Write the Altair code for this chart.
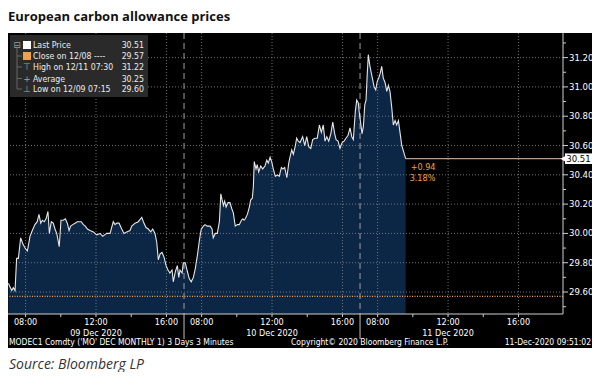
import altair as alt
import pandas as pd

# ---------------- data ----------------
# t = trading-session hours since 07:00 on 09 Dec 2020 (each session 07:00-17:00 = 10 h)
t_hours = [
    0.02, 0.21, 0.30, 0.40, 0.49, 0.59, 0.72, 0.84, 0.97, 1.10, 1.25, 1.38, 1.53, 1.66, 1.76, 1.86,
    1.95, 2.06, 2.16, 2.27, 2.35, 2.46, 2.57, 2.67, 2.77, 2.91, 3.01, 3.14, 3.26, 3.37, 3.47, 3.56,
    3.68, 3.81, 3.94, 4.05, 4.16, 4.28, 4.39, 4.51, 4.66, 4.85, 5.04, 5.23, 5.38, 5.61, 5.80, 5.98,
    6.08, 6.18, 6.31, 6.46, 6.59, 6.74, 6.93, 7.03, 7.22, 7.40, 7.60, 7.69, 7.84, 7.97, 8.11, 8.22,
    8.35, 8.45, 8.54, 8.64, 8.75, 8.86, 8.98, 9.09, 9.20, 9.32, 9.39, 9.51, 9.62, 9.70, 9.77, 9.89,
    9.96,
    10.07, 10.19, 10.30, 10.41, 10.53, 10.64, 10.76, 10.87, 10.98, 11.10, 11.19, 11.32, 11.48, 11.59,
    11.66, 11.78, 11.89, 12.01, 12.09, 12.16, 12.24, 12.31, 12.39, 12.50, 12.61, 12.71, 12.80, 12.91,
    13.03, 13.14, 13.26, 13.34, 13.41, 13.48, 13.60, 13.71, 13.79, 13.88, 13.94, 13.99, 14.09, 14.16,
    14.24, 14.36, 14.47, 14.60, 14.70, 14.79, 14.89, 14.98, 15.07, 15.19, 15.30, 15.41, 15.53, 15.61,
    15.72, 15.84, 15.95, 16.02, 16.12, 16.21, 16.31, 16.40, 16.49, 16.59, 16.74, 16.86, 16.97, 17.09,
    17.20, 17.31, 17.44, 17.57, 17.69, 17.80, 17.91, 18.01, 18.11, 18.22, 18.34, 18.45, 18.56, 18.64,
    18.75, 18.86, 18.98, 19.09, 19.20, 19.32, 19.43, 19.53, 19.62, 19.73, 19.81, 19.90, 19.96,
    20.04, 20.11, 20.19, 20.27, 20.34, 20.41, 20.47, 20.55, 20.63, 20.70, 20.80, 20.89, 20.98, 21.06,
    21.14, 21.23, 21.32, 21.42, 21.52, 21.61, 21.70, 21.80, 21.89, 21.99, 22.08, 22.18, 22.27, 22.37,
    22.47, 22.59,
]
price = [
    29.66, 29.61, 29.63, 29.61, 29.83, 29.83, 29.97, 29.93, 29.90, 29.88, 29.98, 30.02, 30.06, 30.08, 30.13, 30.07,
    30.09, 30.08, 30.10, 30.15, 30.00, 30.08, 30.07, 30.03, 30.00, 29.91, 30.09, 30.09, 30.10, 30.07, 30.02, 30.05,
    30.06, 30.07, 30.08, 30.08, 30.08, 30.06, 30.05, 30.03, 30.02, 30.01, 29.99, 30.00, 29.98, 30.00, 30.00, 30.08,
    30.06, 30.07, 30.07, 30.03, 30.00, 30.01, 30.02, 30.05, 30.07, 30.08, 30.11, 30.08, 30.04, 30.03, 30.01, 30.03,
    30.00, 29.94, 29.82, 29.86, 29.87, 29.84, 29.78, 29.75, 29.73, 29.75, 29.67, 29.74, 29.78, 29.70, 29.75, 29.73,
    29.80,
    29.80, 29.74, 29.69, 29.67, 29.70, 29.76, 29.85, 29.95, 30.03, 30.05, 30.06, 30.05, 30.05, 30.03,
    29.97, 30.00, 30.00, 30.08, 30.27, 30.23, 30.19, 30.22, 30.18, 30.21, 30.21, 30.17, 30.14, 30.05,
    30.06, 30.06, 30.09, 30.10, 30.09, 30.10, 30.13, 30.18, 30.23, 30.24, 30.32, 30.49, 30.44, 30.47,
    30.42, 30.46, 30.44, 30.46, 30.50, 30.48, 30.52, 30.49, 30.44, 30.39, 30.40, 30.39, 30.45, 30.44,
    30.45, 30.38, 30.48, 30.52, 30.57, 30.54, 30.59, 30.65, 30.63, 30.62, 30.66, 30.60, 30.66, 30.59,
    30.58, 30.64, 30.65, 30.65, 30.74, 30.69, 30.74, 30.63, 30.66, 30.63, 30.68, 30.76, 30.68, 30.64,
    30.63, 30.58, 30.62, 30.63, 30.65, 30.67, 30.72, 30.66, 30.64, 30.83, 30.91, 30.89, 30.82,
    30.75, 30.68, 30.73, 30.88, 30.91, 31.09, 31.22, 31.15, 31.10, 31.06, 31.00, 30.98, 31.04, 31.06,
    31.09, 31.14, 31.06, 31.03, 30.97, 31.01, 30.97, 30.86, 30.74, 30.77, 30.74, 30.77, 30.69, 30.60,
    30.56, 30.51,
]

last_price = 30.51
close_prev = 29.57
change_abs = "+0.94"
change_pct = "3.18%"

x_domain = [0, 31.53]
y_domain = [29.45, 31.368]
x_minor = [3, 7, 13, 17, 23, 27]
x_major = [1, 5, 9, 11, 15, 19, 21, 25, 29]
x_labels = ["08:00", "12:00", "16:00", "08:00", "12:00", "16:00", "08:00", "12:00", "16:00"]
day_breaks = [10, 20]
y_minor = [29.5, 29.7, 29.9, 30.1, 30.3, 30.5, 30.7, 30.9, 31.1, 31.3]
y_major = [29.6, 29.8, 30.0, 30.2, 30.4, 30.6, 30.8, 31.0, 31.2]
y_labels = ["29.60", "29.80", "30.00", "30.20", "30.40", "30.60", "30.80", "31.00", "31.20"]
date_t = [5, 15, 25]
date_labels = ["09 Dec 2020", "10 Dec 2020", "11 Dec 2020"]

legend_labels = ["Last Price", "Close on 12/08 ----", "High on 12/11 07:30", "Average", "Low on 12/09 07:15"]
legend_values = ["30.51", "29.57", "31.22", "30.25", "29.60"]
legend_marks = ["", "", "\u22a4", "+", "\u22a5"]

title_text = "European carbon allowance prices"
source_text = "Source: Bloomberg LP"
footer_left = "MODEC1 Comdty ('MO' DEC MONTHLY 1) 3 Days 3 Minutes"
footer_mid = "Copyright\u00a9 2020 Bloomberg Finance L.P."
footer_right = "11-Dec-2020 09:51:02"

# ---------------- styling ----------------
W, H = 555, 281
FONT = "DejaVu Sans Condensed"
AREA = "#0c2645"
LINE = "#e6e6e6"
GRID = "#8c8c8c"
AXIS = "#cfcfcf"
ORANGE = "#f0a048"

df = pd.DataFrame({"t": t_hours, "price": price})
one = pd.DataFrame({"a": [0]})
xs = alt.Scale(domain=x_domain, nice=False, zero=False)
ys = alt.Scale(domain=y_domain, nice=False, zero=False)


def XF(field):
    return alt.X(field, type="quantitative", scale=xs, axis=None)


def YF(field):
    return alt.Y(field, type="quantitative", scale=ys, axis=None)


def XD(v):
    return alt.XDatum(v, axis=None)


def YD(v):
    return alt.YDatum(v, axis=None)


bg = alt.Chart(one).mark_rect(color="black").encode(
    x=alt.value(0), x2=alt.value(584), y=alt.value(0), y2=alt.value(315))

area = alt.Chart(df).mark_area(color=AREA, clip=True).encode(
    x=XF("t"), y=YF("price"), y2=alt.datum(y_domain[0]))

gx = alt.Chart(pd.DataFrame({"t": x_major})).mark_rule(
    color=GRID, strokeDash=[1, 2], strokeWidth=0.8).encode(x=XF("t"))
gy = alt.Chart(pd.DataFrame({"v": y_major})).mark_rule(
    color=GRID, strokeDash=[1, 2], strokeWidth=0.8).encode(y=YF("v"))
sep = alt.Chart(pd.DataFrame({"t": day_breaks})).mark_rule(
    color="#a0a0a0", strokeDash=[6, 4], strokeWidth=1).encode(x=XF("t"))
sep_axis = alt.Chart(pd.DataFrame({"t": day_breaks})).mark_rule(
    color="#a0a0a0", strokeWidth=1.2).encode(
    x=XF("t"), y=alt.value(H), y2=alt.value(H + 25))

close_line = alt.Chart(one).mark_rule(
    color=ORANGE, strokeDash=[1, 1.5], strokeWidth=1.2).encode(y=YD(close_prev))

last_t = t_hours[-1]
last_line = alt.Chart(one).mark_rule(color="#e8c4a8", strokeWidth=1).encode(
    x=XD(last_t), x2=alt.datum(x_domain[1]), y=YD(last_price))

line = alt.Chart(df).mark_line(color=LINE, strokeWidth=1.1, clip=True).encode(
    x=XF("t"), y=YF("price"))

# ---- axes drawn as marks ----
x_dom = alt.Chart(one).mark_rule(color=AXIS, strokeWidth=1).encode(
    x=alt.value(0), x2=alt.value(W), y=alt.value(H))
y_dom = alt.Chart(one).mark_rule(color=AXIS, strokeWidth=1).encode(
    x=alt.value(W), y=alt.value(0), y2=alt.value(H))
x_tick_major = alt.Chart(pd.DataFrame({"t": x_major})).mark_rule(color=AXIS).encode(
    x=XF("t"), y=alt.value(H), y2=alt.value(H + 3))
x_tick_minor = alt.Chart(pd.DataFrame({"t": x_minor})).mark_rule(color=AXIS).encode(
    x=XF("t"), y=alt.value(H), y2=alt.value(H + 3))
x_text = alt.Chart(pd.DataFrame({"t": x_major, "lab": x_labels})).mark_text(
    color="white", font=FONT, fontSize=9, baseline="middle", align="center").encode(
    x=XF("t"), y=alt.value(H + 8), text="lab:N")
y_tick_major = alt.Chart(pd.DataFrame({"v": y_major})).mark_rule(color=AXIS).encode(
    y=YF("v"), x=alt.value(W), x2=alt.value(W + 5))
y_tick_minor = alt.Chart(pd.DataFrame({"v": y_minor})).mark_rule(color=AXIS).encode(
    y=YF("v"), x=alt.value(W), x2=alt.value(W + 3))
y_text = alt.Chart(pd.DataFrame({"v": y_major, "lab": y_labels})).mark_text(
    color="white", font=FONT, fontSize=9.5, baseline="middle", align="left").encode(
    y=YF("v"), x=alt.value(W + 6), text="lab:N")

chg1 = alt.Chart(one).mark_text(align="left", baseline="middle", dx=5, dy=8,
                                color=ORANGE, font=FONT, fontSize=9).encode(
    x=XD(last_t), y=YD(last_price), text=alt.value(change_abs))
chg2 = alt.Chart(one).mark_text(align="left", baseline="middle", dx=4, dy=19,
                                color=ORANGE, font=FONT, fontSize=9).encode(
    x=XD(last_t), y=YD(last_price), text=alt.value(change_pct))

box = alt.Chart(one).mark_rect(color="white").encode(
    x=alt.value(557), x2=alt.value(584),
    y=YD(last_price + 0.036), y2=alt.datum(last_price - 0.036))
box_tri = alt.Chart(one).mark_point(shape="triangle-left", filled=True, color="white",
                                    size=30, opacity=1).encode(
    x=alt.value(555), y=YD(last_price))
box_txt = alt.Chart(one).mark_text(align="center", baseline="middle", color="black",
                                   font=FONT, fontSize=9.5).encode(
    x=alt.value(570.5), y=YD(last_price), text=alt.value(f"{last_price:.2f}"))

# legend box
leg_bg = alt.Chart(one).mark_rect(color="#2a2a2a").encode(
    x=alt.value(2), x2=alt.value(140), y=alt.value(2), y2=alt.value(64))
leg_rows = [12, 23, 34, 45.5, 56]
leg_layers = [leg_bg]
leg_layers.append(alt.Chart(one).mark_rule(color="#777777", strokeWidth=0.8).encode(
    x=alt.value(9), y=alt.value(15), y2=alt.value(56)))
leg_layers.append(alt.Chart(one).mark_text(color="#9a9a9a", font="DejaVu Sans", fontSize=9,
                                           baseline="middle", align="center").encode(
    x=alt.value(9), y=alt.value(12), text=alt.value("\u229f")))
for i, (lab, val, sym) in enumerate(zip(legend_labels, legend_values, legend_marks)):
    yy = leg_rows[i]
    if i > 0:
        leg_layers.append(alt.Chart(one).mark_rule(color="#777777", strokeWidth=0.8).encode(
            x=alt.value(9), x2=alt.value(14), y=alt.value(yy)))
    leg_layers.append(alt.Chart(one).mark_text(align="left", baseline="middle", color="#ececec",
                                               font=FONT, fontSize=8.7).encode(
        x=alt.value(25), y=alt.value(yy), text=alt.value(lab)))
    leg_layers.append(alt.Chart(one).mark_text(align="right", baseline="middle", color="#ececec",
                                               font=FONT, fontSize=8.7).encode(
        x=alt.value(136), y=alt.value(yy), text=alt.value(val)))
    if sym:
        leg_layers.append(alt.Chart(one).mark_text(align="center", baseline="middle", color="#a0a0a0",
                                                   font="DejaVu Sans", fontSize=9).encode(
            x=alt.value(19), y=alt.value(yy), text=alt.value(sym)))
leg_layers.append(alt.Chart(one).mark_square(color="white", size=64, opacity=1).encode(
    x=alt.value(19), y=alt.value(leg_rows[0])))
leg_layers.append(alt.Chart(one).mark_square(color=ORANGE, size=64, opacity=1).encode(
    x=alt.value(19), y=alt.value(leg_rows[1])))

dates = alt.Chart(pd.DataFrame({"t": date_t, "label": date_labels})).mark_text(
    color="white", font=FONT, fontSize=9, baseline="middle").encode(
    x=XF("t"), y=alt.value(H + 19), text="label:N")

foot_l = alt.Chart(one).mark_text(align="left", baseline="middle", color="white",
                                  font=FONT, fontSize=8.5).encode(
    x=alt.value(1), y=alt.value(H + 28), text=alt.value(footer_left))
foot_m = alt.Chart(one).mark_text(align="left", baseline="middle", color="white",
                                  font=FONT, fontSize=8.5).encode(
    x=alt.value(283), y=alt.value(H + 28), text=alt.value(footer_mid))
foot_r = alt.Chart(one).mark_text(align="right", baseline="middle", color="white",
                                  font=FONT, fontSize=8.5).encode(
    x=alt.value(583), y=alt.value(H + 28), text=alt.value(footer_right))

title = alt.Chart(one).mark_text(align="left", baseline="alphabetic", color="#111111",
                                 font="Open Sans", fontWeight="bold", fontSize=13).encode(
    x=alt.value(0), y=alt.value(-12), text=alt.value(title_text))
source = alt.Chart(one).mark_text(align="left", baseline="alphabetic", color="#333333",
                                  font="Open Sans", fontStyle="italic", fontSize=14).encode(
    x=alt.value(1), y=alt.value(H + 55), text=alt.value(source_text))

chart = alt.layer(
    bg, area, gx, gy, sep, sep_axis, close_line, last_line, line,
    x_dom, y_dom, x_tick_major, x_tick_minor, x_text, y_tick_major, y_tick_minor, y_text,
    chg1, chg2, box, box_tri, box_txt, *leg_layers, dates, foot_l, foot_m, foot_r,
    title, source,
).properties(
    width=W, height=H,
    autosize=alt.AutoSizeParams(type="none"),
    padding={"left": 0, "top": 25, "right": 29, "bottom": 58},
    background="white",
).configure_view(stroke=None)

chart.save("out.html", embed_options={"renderer": "svg", "actions": False})
